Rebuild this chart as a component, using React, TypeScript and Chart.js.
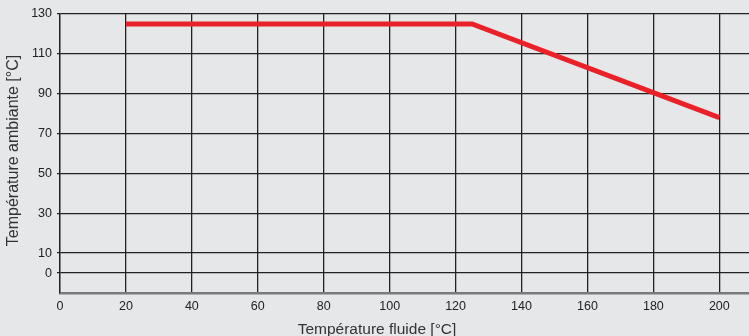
import React, { useEffect, useRef } from "react";
import { Chart, registerables } from "chart.js";

Chart.register(...registerables);

const seriesX: number[] = [20, 125, 200];
const seriesY: number[] = [125, 125, 78];
const xTicks: number[] = [0, 20, 40, 60, 80, 100, 120, 140, 160, 180, 200];
const yTicks: number[] = [0, 10, 30, 50, 70, 90, 110, 130];
const xTitle = "Température fluide [°C]";
const yTitle = "Température ambiante [°C]";

const FONT = "'Liberation Sans', Arial, Helvetica, sans-serif";
const BG = "#e6e7e9";

const bgPlugin = {
  id: "bgFill",
  beforeDraw(chart: any) {
    const ctx = chart.ctx;
    ctx.save();
    ctx.fillStyle = BG;
    ctx.fillRect(0, 0, chart.width, chart.height);
    ctx.restore();
  },
};

const titlePlugin = {
  id: "axisTitles",
  afterDraw(chart: any) {
    const ctx = chart.ctx;
    ctx.save();
    ctx.fillStyle = "#333333";
    ctx.textAlign = "center";
    ctx.textBaseline = "alphabetic";
    ctx.font = `15.5px ${FONT}`;
    ctx.fillText(xTitle, 377, 334);
    ctx.font = `16px ${FONT}`;
    ctx.translate(17.5, 150.5);
    ctx.rotate(-Math.PI / 2);
    ctx.fillText(yTitle, 0, 0);
    ctx.restore();
  },
};

export default function App() {
  const ref = useRef<HTMLCanvasElement | null>(null);
  useEffect(() => {
    document.body.style.margin = "0";
    document.body.style.background = BG;
    if (!ref.current) return;
    const chart = new Chart(ref.current, {
      type: "line",
      data: {
        datasets: [
          {
            data: seriesX.map((x, i) => ({ x, y: seriesY[i] })),
            borderColor: "#ea2129",
            borderWidth: 5,
            pointRadius: 0,
            fill: false,
            tension: 0,
          },
        ],
      },
      options: {
        animation: false,
        responsive: false,
        layout: { padding: { top: 14, right: 0, left: 0, bottom: 0 } },
        plugins: { legend: { display: false }, tooltip: { enabled: false }, title: { display: false } },
        scales: {
          x: {
            type: "linear",
            min: 0,
            max: 209,
            afterBuildTicks: (scale: any) => {
              scale.ticks = xTicks.map((v) => ({ value: v }));
            },
            afterFit: (scale: any) => {
              scale.height = 43;
            },
            ticks: {
              color: "#222222",
              font: { family: FONT, size: 12.5 },
              padding: 6,
              maxRotation: 0,
              autoSkip: false,
            },
            grid: { color: "#222222", lineWidth: 1.3, drawTicks: false },
            border: { display: true, color: "#7a7a7a", width: 2.5 },
          },
          y: {
            type: "linear",
            min: -10,
            max: 130,
            afterBuildTicks: (scale: any) => {
              scale.ticks = yTicks.map((v) => ({ value: v }));
            },
            afterFit: (scale: any) => {
              scale.width = 60;
            },
            ticks: {
              color: "#222222",
              font: { family: FONT, size: 12.5 },
              padding: 5,
              autoSkip: false,
            },
            grid: { color: "#222222", lineWidth: 1.3, drawTicks: true, tickLength: 3 },
            border: { display: true, color: "#222222", width: 1.3 },
          },
        },
      },
      plugins: [bgPlugin, titlePlugin],
    } as any);
    return () => chart.destroy();
  }, []);
  return (
    <div style={{ width: 749, height: 336, background: BG }}>
      <canvas ref={ref} width={749} height={336} style={{ display: "block" }} />
    </div>
  );
}
